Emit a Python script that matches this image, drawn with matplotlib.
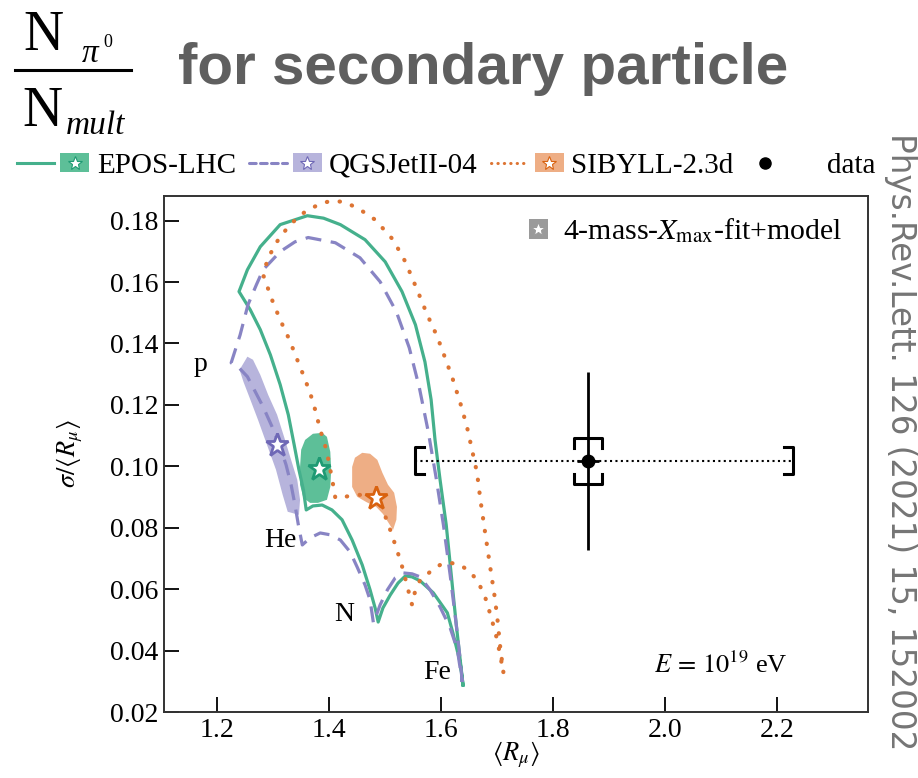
import matplotlib
matplotlib.use('Agg')
import matplotlib.pyplot as plt
from matplotlib.lines import Line2D
from matplotlib.patches import Rectangle
from matplotlib.legend_handler import HandlerBase
from matplotlib.ticker import FormatStrFormatter

plt.rcParams['font.family'] = ['Liberation Serif', 'DejaVu Serif']
plt.rcParams['mathtext.fontset'] = 'stix'

# mixture lines: Fe -> outer arc -> p -> He -> N -> Fe
epos_x = [1.639, 1.634, 1.627, 1.618, 1.609, 1.598, 1.589, 1.582, 1.571, 1.554, 1.530, 1.500, 1.464, 1.420, 1.390, 1.361, 1.3125, 1.277, 1.254, 1.239,
          1.259, 1.277, 1.295, 1.3125, 1.327, 1.3375, 1.346, 1.354, 1.359,
          1.371, 1.3875, 1.405, 1.423, 1.441, 1.459, 1.473, 1.482, 1.4875,
          1.496, 1.509, 1.523, 1.536, 1.548, 1.5625, 1.586, 1.611, 1.621, 1.634, 1.639]
epos_y = [0.0288, 0.0369, 0.0483, 0.0646, 0.0809, 0.0956, 0.1086, 0.1217, 0.1340, 0.1461, 0.1569, 0.1666, 0.1738, 0.1787, 0.1808, 0.1816, 0.1787, 0.1715, 0.1640, 0.1569,
          0.1510, 0.1445, 0.1363, 0.1266, 0.1168, 0.1070, 0.0989, 0.0923, 0.0858,
          0.0871, 0.0874, 0.0858, 0.0826, 0.0760, 0.0679, 0.0598, 0.0539, 0.0493,
          0.0539, 0.0581, 0.0620, 0.0643, 0.0640, 0.0627, 0.0588, 0.0523, 0.0457, 0.0360, 0.0288]

qgs_x = [1.6375, 1.634, 1.627, 1.616, 1.604, 1.591, 1.577, 1.561, 1.543, 1.520, 1.491, 1.455, 1.411, 1.3625, 1.339, 1.3125, 1.282, 1.270, 1.255, 1.241, 1.225,
         1.239, 1.254, 1.268, 1.282, 1.298, 1.3125, 1.323, 1.332, 1.339, 1.345, 1.352,
         1.366, 1.384, 1.402, 1.420, 1.4375, 1.450, 1.464, 1.473, 1.479,
         1.491, 1.504, 1.518, 1.532, 1.548, 1.5625, 1.580, 1.598, 1.616, 1.629, 1.6375]
qgs_y = [0.0298, 0.0369, 0.0483, 0.0646, 0.0809, 0.0962, 0.1112, 0.1256, 0.1386, 0.1503, 0.1601, 0.1679, 0.1728, 0.1745, 0.1731, 0.1699, 0.1640, 0.1591, 0.1526, 0.1428, 0.1337,
         0.1321, 0.1292, 0.1243, 0.1194, 0.1129, 0.1063, 0.1005, 0.0940, 0.0874, 0.0809, 0.0744,
         0.0767, 0.0783, 0.0777, 0.0760, 0.0721, 0.0672, 0.0614, 0.0565, 0.0490,
         0.0549, 0.0598, 0.0637, 0.0653, 0.0650, 0.0640, 0.0598, 0.0542, 0.0474, 0.0402, 0.0298]

sib_x = [1.711, 1.705, 1.700, 1.695, 1.6875, 1.679, 1.670, 1.664, 1.655, 1.646, 1.634, 1.621, 1.607, 1.593, 1.575, 1.557, 1.536, 1.514, 1.482, 1.455, 1.429, 1.405, 1.384, 1.357, 1.330, 1.309, 1.291, 1.282,
         1.298, 1.3125, 1.329, 1.343, 1.355, 1.366, 1.375, 1.384, 1.395, 1.402, 1.407, 1.411,
         1.429, 1.446, 1.464, 1.484, 1.496, 1.509, 1.521, 1.532, 1.541, 1.548,
         1.554, 1.5625, 1.580, 1.598, 1.616, 1.634, 1.652, 1.666, 1.679, 1.689, 1.700, 1.711]
sib_y = [0.0330, 0.0418, 0.0510, 0.0581, 0.0672, 0.0777, 0.0891, 0.0979, 0.1054, 0.1129, 0.1207, 0.1282, 0.1353, 0.1422, 0.1494, 0.1575, 0.1666, 0.1738, 0.1803, 0.1836, 0.1860, 0.1865, 0.1855, 0.1829, 0.1787, 0.1738, 0.1679, 0.1624,
         0.1542, 0.1477, 0.1412, 0.1347, 0.1292, 0.1239, 0.1184, 0.1119, 0.1054, 0.0989, 0.0940, 0.0897,
         0.0901, 0.0907, 0.0907, 0.0897, 0.0858, 0.0793, 0.0728, 0.0663, 0.0598, 0.0549,
         0.0598, 0.0630, 0.0656, 0.0679, 0.0686, 0.0679, 0.0656, 0.0624, 0.0571, 0.0510, 0.0435, 0.0330]

# 4-mass Xmax fit regions
qgs_fit_x = [1.254, 1.264, 1.277, 1.291, 1.307, 1.320, 1.332, 1.343, 1.348, 1.346, 1.326, 1.317, 1.305, 1.289, 1.273, 1.258, 1.247, 1.240]
qgs_fit_y = [0.1357, 0.1347, 0.1298, 0.1233, 0.1168, 0.1093, 0.1021, 0.0956, 0.0891, 0.0842, 0.0852, 0.0907, 0.0989, 0.1070, 0.1151, 0.1223, 0.1275, 0.1314]
epos_fit_x = [1.348, 1.350, 1.357, 1.371, 1.3875, 1.396, 1.402, 1.4036, 1.402, 1.396, 1.380, 1.366, 1.354, 1.348]
epos_fit_y = [0.0998, 0.1054, 0.1086, 0.1106, 0.1109, 0.1096, 0.1047, 0.0989, 0.0933, 0.0891, 0.0881, 0.0881, 0.0897, 0.0940]
sib_fit_x = [1.441, 1.446, 1.459, 1.473, 1.486, 1.495, 1.505, 1.516, 1.521, 1.520, 1.514, 1.507, 1.496, 1.484, 1.466, 1.450, 1.441]
sib_fit_y = [0.0998, 0.1028, 0.1044, 0.1041, 0.1021, 0.0979, 0.0940, 0.0914, 0.0868, 0.0826, 0.0793, 0.0813, 0.0845, 0.0868, 0.0884, 0.0901, 0.0933]
best_x = [1.382, 1.307, 1.484]   # EPOS, QGSJet, SIBYLL
best_y = [0.0992, 0.1070, 0.0897]

# data point
data_x, data_y = 1.8625, 0.1018
data_xstat, data_ystat = 0.02, 0.029
data_xsys = (1.5536, 2.2286)
data_ysys = (0.0943, 0.1093)

green, green_fill, green_star = '#45b08c', '#5dbf98', '#1e9a73'
purple, purple_fill, purple_star = '#8884c4', '#b7b4dc', '#6f68b6'
orange, orange_fill, orange_star = '#dd7433', '#eeae85', '#d9620f'


class Key:
    def __init__(self, ls, line, fill, star):
        self.ls, self.line, self.fill, self.star = ls, line, fill, star


class DotKey:
    pass


class LineBoxHandler(HandlerBase):
    def create_artists(self, legend, h, xdescent, ydescent, width, height, fontsize, trans):
        y = height / 2 - ydescent
        out = []
        if h.ls is not None:
            ln = Line2D([-xdescent, -xdescent + 0.52 * width], [y, y], color=h.line, lw=2.2,
                        transform=trans, dash_capstyle='round')
            ln.set_linestyle(h.ls)
            out.append(ln)
            x0 = -xdescent + 0.6 * width
            bw = 0.4 * width
        else:
            x0 = -xdescent
            bw = width
        bh = height * 0.95
        out.append(Rectangle((x0, y - bh / 2), bw, bh, facecolor=h.fill, edgecolor='none', transform=trans))
        out.append(Line2D([x0 + bw / 2], [y], marker='*', ms=10, mfc='white', mec=h.star, mew=0.8,
                          ls='none', transform=trans))
        return out


class DotHandler(HandlerBase):
    def create_artists(self, legend, h, xdescent, ydescent, width, height, fontsize, trans):
        y = height / 2 - ydescent
        return [Line2D([-xdescent + 0.25 * width], [y], marker='o', ms=8, color='black',
                       ls='none', transform=trans)]


fig = plt.figure(figsize=(9.18, 7.78), dpi=100)
ax = fig.add_axes([0.1786, 0.0848, 0.7669, 0.6632])

ax.fill(qgs_fit_x, qgs_fit_y, color=purple_fill, lw=0)
ax.fill(epos_fit_x, epos_fit_y, color=green_fill, lw=0)
ax.fill(sib_fit_x, sib_fit_y, color=orange_fill, lw=0)

ax.plot(epos_x, epos_y, color=green, lw=2.3, solid_joinstyle='round')
ax.plot(qgs_x, qgs_y, color=purple, lw=2.3, ls=(0, (5, 3)))
ax.plot(sib_x, sib_y, color=orange, lw=3, ls=(0, (0.1, 3)), dash_capstyle='round')

ax.plot(best_x[0], best_y[0], marker='*', ms=17, mfc='white', mec=green_star, mew=2, ls='none')
ax.plot(best_x[1], best_y[1], marker='*', ms=17, mfc='white', mec=purple_star, mew=2, ls='none')
ax.plot(best_x[2], best_y[2], marker='*', ms=17, mfc='white', mec=orange_star, mew=2, ls='none')

# data with statistical and systematic uncertainties
ax.plot(data_xsys, [data_y, data_y], color='black', ls=(0, (1, 1.6)), lw=1.5)
ax.errorbar(data_x, data_y, xerr=data_xstat, yerr=data_ystat, fmt='o', color='black', ms=9, elinewidth=2, capsize=0)
cx, cy = 0.016, 0.0044
ax.plot([data_xsys[0] + cx, data_xsys[0], data_xsys[0], data_xsys[0] + cx],
        [data_y - cy, data_y - cy, data_y + cy, data_y + cy], color='black', lw=2.2)
ax.plot([data_xsys[1] - cx, data_xsys[1], data_xsys[1], data_xsys[1] - cx],
        [data_y - cy, data_y - cy, data_y + cy, data_y + cy], color='black', lw=2.2)
bx, by = 0.025, 0.0033
ax.plot([data_x - bx, data_x - bx, data_x + bx, data_x + bx],
        [data_ysys[1] - by, data_ysys[1], data_ysys[1], data_ysys[1] - by], color='black', lw=2.2)
ax.plot([data_x - bx, data_x - bx, data_x + bx, data_x + bx],
        [data_ysys[0] + by, data_ysys[0], data_ysys[0], data_ysys[0] + by], color='black', lw=2.2)

for lab, lx, ly in [('p', 1.170, 0.133), ('He', 1.3125, 0.076), ('N', 1.427, 0.0516), ('Fe', 1.593, 0.033)]:
    ax.text(lx, ly, lab, fontsize=20, ha='center', va='center')
ax.text(2.218, 0.0353, r'$E\,=\,10^{19}$ eV', fontsize=19, ha='right', va='center')

ax.set_xlim(1.105, 2.362)
ax.set_ylim(0.02, 0.188)
ax.set_xticks([1.2, 1.4, 1.6, 1.8, 2.0, 2.2])
ax.set_yticks([0.02, 0.04, 0.06, 0.08, 0.10, 0.12, 0.14, 0.16, 0.18])
ax.xaxis.set_major_formatter(FormatStrFormatter('%.1f'))
ax.yaxis.set_major_formatter(FormatStrFormatter('%.2f'))
ax.tick_params(direction='in', length=11, width=1.3, labelsize=20, pad=4, top=False, right=False)
for s in ax.spines.values():
    s.set_linewidth(1.4)
    s.set_color('#333333')
ax.set_xlabel(r'$\langle R_\mu\rangle$', fontsize=19, labelpad=-2)
ax.set_ylabel(r'$\sigma/\langle R_\mu\rangle$', fontsize=19, labelpad=18)

# legends
ax.legend([Key(None, None, '#9a9a9a', '#9a9a9a')], [r'4-mass-$X_{\rm max}$-fit+model'],
          handler_map={Key: LineBoxHandler()}, loc='upper right', bbox_to_anchor=(0.985, 0.99),
          frameon=False, fontsize=21.5, handlelength=0.65, handletextpad=0.5, borderpad=0)

keys = [Key('-', green, green_fill, green_star),
        Key((0, (2.2, 1.4)), purple, purple_fill, purple_star),
        Key((0, (0.1, 2.0)), orange, orange_fill, orange_star),
        DotKey()]
names = ['EPOS-LHC', 'QGSJetII-04', 'SIBYLL-2.3d', 'data']
fig.legend(keys, names, handler_map={Key: LineBoxHandler(), DotKey: DotHandler()}, loc='center left',
           bbox_to_anchor=(0.018, 0.787), ncol=4, frameon=False, fontsize=21,
           handlelength=2.5, handletextpad=0.25, columnspacing=0.45, borderpad=0, borderaxespad=0)

# title
fig.text(43 / 918, 1 - 50 / 778, 'N', fontsize=40, ha='center', va='baseline')
fig.text(82 / 918, 1 - 62 / 778, 'π', fontsize=24, style='italic', ha='left', va='baseline')
fig.text(103 / 918, 1 - 47 / 778, '0', fontsize=13, ha='left', va='baseline')
fig.add_artist(Line2D([15 / 918, 131 / 918], [1 - 70 / 778, 1 - 70 / 778], color='black', lw=2.2))
fig.text(42 / 918, 1 - 126 / 778, 'N', fontsize=40, ha='center', va='baseline')
fig.text(66 / 918, 1 - 134 / 778, 'mult', fontsize=24, style='italic', ha='left', va='baseline')
fig.text(178 / 918, 1 - 84 / 778, 'for secondary particle', fontsize=42, fontweight='bold',
         family='Liberation Sans', color='#5f5f5f', ha='left', va='baseline')
fig.text(900 / 918, 1 - 133 / 778, 'Phys.Rev.Lett. 126 (2021) 15, 152002', fontsize=23.5,
         family='DejaVu Sans', color='#757575', rotation=270, ha='center', va='top')

fig.savefig('out.png', dpi=100)
